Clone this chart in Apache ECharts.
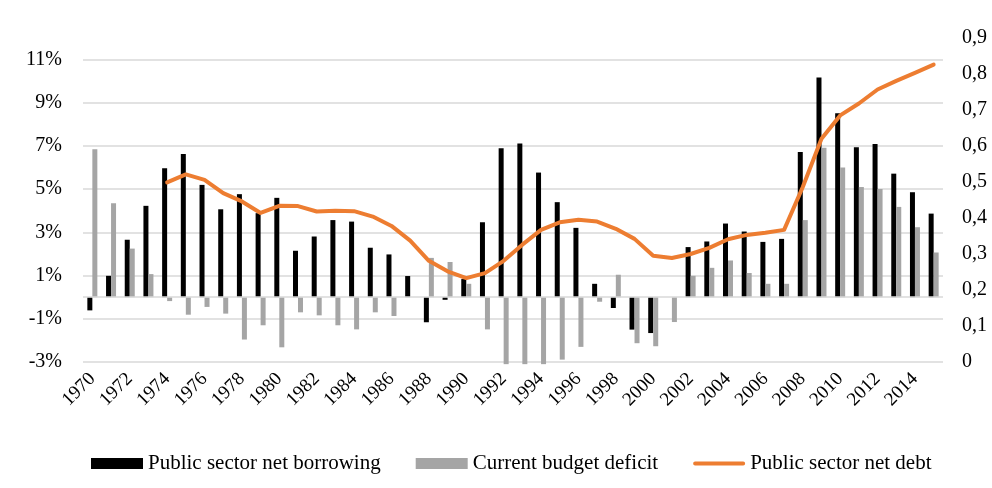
<!DOCTYPE html>
<html>
<head>
<meta charset="utf-8">
<script src="https://cdn.jsdelivr.net/npm/echarts@6/dist/echarts.min.js"></script>
<style>
html,body{margin:0;padding:0;background:#fff;}
#c{width:992px;height:488px;}
#frame{position:absolute;left:7px;top:0;width:1px;height:488px;background:#D9D9D9;}
</style>
</head>
<body>
<div id="frame"></div>
<div id="c"></div>
<script>
const years = [];
for (let y = 1970; y <= 2015; y++) years.push(String(y));

const netBorrowing = [
  -0.61, 0.99, 2.66, 4.23, 5.97, 6.63, 5.2, 4.07, 4.77, 3.89,
  4.6, 2.15, 2.81, 3.57, 3.5, 2.29, 1.98, 0.98, -1.16, -0.12,
  0.84, 3.47, 6.9, 7.12, 5.77, 4.4, 3.21, 0.62, -0.5, -1.5,
  -1.66, 0, 2.32, 2.58, 3.41, 3.04, 2.56, 2.7, 6.72, 10.17,
  8.52, 6.94, 7.09, 5.72, 4.86, 3.87
];

const budgetDeficit = [
  6.85, 4.35, 2.25, 1.07, -0.18, -0.81, -0.45, -0.76, -1.96, -1.3,
  -2.32, -0.7, -0.84, -1.3, -1.49, -0.7, -0.87, 0, 1.82, 1.63,
  0.62, -1.49, -3.1, -3.1, -3.1, -2.89, -2.3, -0.21, 1.04, -2.13,
  -2.27, -1.15, 0.99, 1.36, 1.7, 1.12, 0.62, 0.62, 3.57, 6.92,
  6.01, 5.1, 5.01, 4.18, 3.24, 2.07
];

const netDebt = [
  null, null, null, null, 0.499, 0.521, 0.506, 0.469, 0.446, 0.414,
  0.434, 0.433, 0.418, 0.42, 0.419, 0.404, 0.378, 0.337, 0.281, 0.252,
  0.233, 0.247, 0.281, 0.326, 0.367, 0.388, 0.395, 0.39, 0.37, 0.342,
  0.295, 0.289, 0.3, 0.317, 0.341, 0.353, 0.359, 0.367, 0.486, 0.62,
  0.685, 0.718, 0.757, 0.781, 0.803, 0.826
];

const FONT = '"Liberation Serif", "Times New Roman", serif';
const chart = echarts.init(document.getElementById('c'), null, {renderer: 'canvas'});
chart.setOption({
  backgroundColor: '#fff',
  animation: false,
  textStyle: {fontFamily: FONT},
  grid: {left: 83, right: 49, top: 38, bottom: 126, containLabel: false},
  legend: {
    top: 448,
    left: 86,
    itemGap: 35,
    itemWidth: 52,
    itemHeight: 11,
    textStyle: {fontFamily: FONT, fontSize: 21, color: '#000'},
    data: [
      {name: 'Public sector net borrowing', icon: 'rect'},
      {name: 'Current budget deficit', icon: 'rect'},
      {name: 'Public sector net debt', icon: 'path://M2,0 H52 A2,2 0 0 1 52,4 H2 A2,2 0 0 1 2,0 Z'}
    ]
  },
  xAxis: {
    type: 'category',
    data: years,
    axisLine: {show: false, onZero: false},
    axisTick: {show: false},
    axisLabel: {
      interval: 1,
      rotate: 45,
      margin: 14,
      fontFamily: FONT,
      fontSize: 19,
      color: '#000'
    }
  },
  yAxis: [
    {
      type: 'value',
      min: -3,
      max: 12,
      interval: 2,
      axisLine: {show: false},
      axisTick: {show: false},
      axisLabel: {
        showMaxLabel: false,
        margin: 21,
        fontFamily: FONT,
        fontSize: 20,
        color: '#000',
        formatter: v => v + '%'
      },
      splitLine: {show: true, showMaxLine: false, lineStyle: {color: '#D9D9D9', width: 1.5}}
    },
    {
      type: 'value',
      min: 0,
      max: 0.9,
      interval: 0.1,
      position: 'right',
      axisLine: {show: false},
      axisTick: {show: false},
      splitLine: {show: false},
      axisLabel: {
        margin: 19,
        fontFamily: FONT,
        fontSize: 20,
        color: '#000',
        formatter: v => v === 0 ? '0' : v.toFixed(1).replace('.', ',')
      }
    }
  ],
  series: [
    {
      name: 'Public sector net borrowing',
      type: 'bar',
      data: netBorrowing,
      barWidth: 5,
      barGap: '0%',
      clip: false,
      itemStyle: {color: '#000000'},
      markLine: {
        silent: true,
        symbol: ['none', 'none'],
        label: {show: false},
        lineStyle: {color: '#D9D9D9', width: 1.5, type: 'solid'},
        data: [{yAxis: 0}]
      }
    },
    {
      name: 'Current budget deficit',
      type: 'bar',
      data: budgetDeficit,
      barWidth: 5,
      barGap: '0%',
      clip: false,
      itemStyle: {color: '#A5A5A5'}
    },
    {
      name: 'Public sector net debt',
      type: 'line',
      yAxisIndex: 1,
      data: netDebt,
      symbol: 'none',
      showSymbol: false,
      connectNulls: false,
      lineStyle: {color: '#ED7D31', width: 4, cap: 'round', join: 'round'},
      itemStyle: {color: '#ED7D31'}
    }
  ]
});
</script>
</body>
</html>
